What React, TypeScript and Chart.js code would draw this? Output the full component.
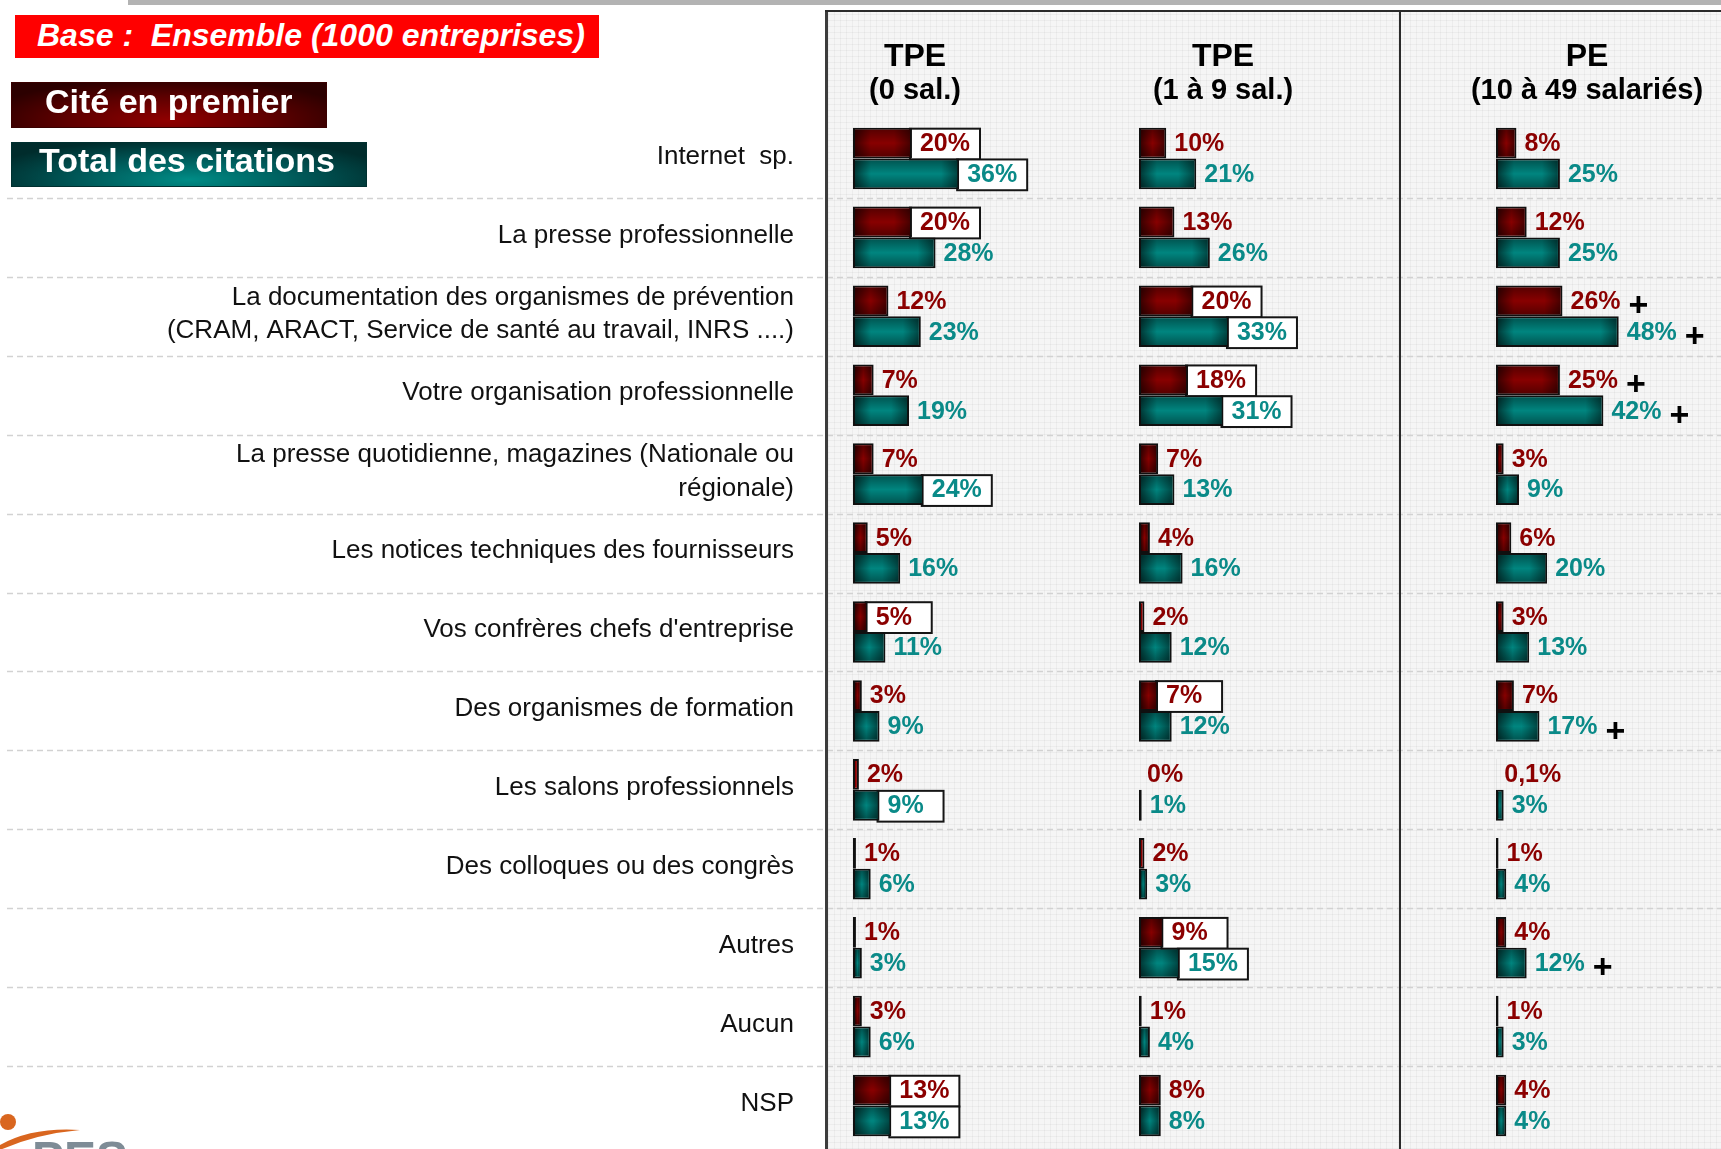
import React, { useEffect, useRef } from 'react';
import { Chart, registerables } from 'chart.js';

Chart.register(...registerables);

// ---------------- DATA ----------------
const ROW_LABELS: (string | string[])[] = [
  'Internet  sp.',
  'La presse professionnelle',
  ['La documentation des organismes de prévention', '(CRAM, ARACT, Service de santé au travail, INRS ....)'],
  'Votre organisation professionnelle',
  ['La presse quotidienne, magazines (Nationale ou', 'régionale)'],
  'Les notices techniques des fournisseurs',
  "Vos confrères chefs d'entreprise",
  'Des organismes de formation',
  'Les salons professionnels',
  'Des colloques ou des congrès',
  'Autres',
  'Aucun',
  'NSP',
];

const PANEL_TITLES: string[][] = [
  ['TPE', '(0 sal.)'],
  ['TPE', '(1 à 9 sal.)'],
  ['PE', '(10 à 49 salariés)'],
];

const SERIES_NAMES = ['Cité en premier', 'Total des citations'];

const TPE0_FIRST = [20, 20, 12, 7, 7, 5, 5, 3, 2, 1, 1, 3, 13];
const TPE0_TOTAL = [36, 28, 23, 19, 24, 16, 11, 9, 9, 6, 3, 6, 13];
const TPE19_FIRST = [10, 13, 20, 18, 7, 4, 2, 7, 0, 2, 9, 1, 8];
const TPE19_TOTAL = [21, 26, 33, 31, 13, 16, 12, 12, 1, 3, 15, 4, 8];
const PE_FIRST = [8, 12, 26, 25, 3, 6, 3, 7, 0.1, 1, 4, 1, 4];
const PE_TOTAL = [25, 25, 48, 42, 9, 20, 13, 17, 3, 4, 12, 3, 4];

// framed labels (significant differences)
const TPE0_FIRST_BOX = [1, 1, 0, 0, 0, 0, 1, 0, 0, 0, 0, 0, 1];
const TPE0_TOTAL_BOX = [1, 0, 0, 0, 1, 0, 0, 0, 1, 0, 0, 0, 1];
const TPE19_FIRST_BOX = [0, 0, 1, 1, 0, 0, 0, 1, 0, 0, 1, 0, 0];
const TPE19_TOTAL_BOX = [0, 0, 1, 1, 0, 0, 0, 0, 0, 0, 1, 0, 0];
const PE_FIRST_BOX = [0, 0, 0, 0, 0, 0, 0, 0, 0, 0, 0, 0, 0];
const PE_TOTAL_BOX = [0, 0, 0, 0, 0, 0, 0, 0, 0, 0, 0, 0, 0];

// "+" markers
const TPE0_FIRST_PLUS = [0, 0, 0, 0, 0, 0, 0, 0, 0, 0, 0, 0, 0];
const TPE0_TOTAL_PLUS = [0, 0, 0, 0, 0, 0, 0, 0, 0, 0, 0, 0, 0];
const TPE19_FIRST_PLUS = [0, 0, 0, 0, 0, 0, 0, 0, 0, 0, 0, 0, 0];
const TPE19_TOTAL_PLUS = [0, 0, 0, 0, 0, 0, 0, 0, 0, 0, 0, 0, 0];
const PE_FIRST_PLUS = [0, 0, 1, 1, 0, 0, 0, 0, 0, 0, 0, 0, 0];
const PE_TOTAL_PLUS = [0, 0, 1, 1, 0, 0, 0, 1, 0, 0, 1, 0, 0];

// ---------------- STYLE / LAYOUT ----------------
const W = 1721;
const H = 1149;
const FONT = '"Liberation Sans", Arial, Helvetica, sans-serif';
const RED_FILL = '#880000';
const TEAL_FILL = '#00857f';
const RED_TEXT = '#8b0000';
const TEAL_TEXT = '#0a8a88';
const PANEL_LEFT = 825;
const PANEL_TOP = 11;
const DIVIDER_X = 1400;
const HEADER_CX = [915, 1223, 1587];

type Series = { data: number[]; box: number[]; plus: number[]; axis: string; kind: 'first' | 'total' };

const SERIES: Series[] = [
  { data: TPE0_FIRST, box: TPE0_FIRST_BOX, plus: TPE0_FIRST_PLUS, axis: 'x1', kind: 'first' },
  { data: TPE0_TOTAL, box: TPE0_TOTAL_BOX, plus: TPE0_TOTAL_PLUS, axis: 'x1', kind: 'total' },
  { data: TPE19_FIRST, box: TPE19_FIRST_BOX, plus: TPE19_FIRST_PLUS, axis: 'x2', kind: 'first' },
  { data: TPE19_TOTAL, box: TPE19_TOTAL_BOX, plus: TPE19_TOTAL_PLUS, axis: 'x2', kind: 'total' },
  { data: PE_FIRST, box: PE_FIRST_BOX, plus: PE_FIRST_PLUS, axis: 'x3', kind: 'first' },
  { data: PE_TOTAL, box: PE_TOTAL_BOX, plus: PE_TOTAL_PLUS, axis: 'x3', kind: 'total' },
];

const fmt = (v: number) => String(v).replace('.', ',') + '%';

function barRect(el: any) {
  const p = el.getProps(['x', 'y', 'base', 'height'], true);
  const left = Math.min(p.x, p.base);
  const right = Math.max(p.x, p.base);
  return { left, right, top: p.y - p.height / 2, bottom: p.y + p.height / 2, end: p.x, cy: p.y, h: p.height };
}

const decorPlugin = {
  id: 'decor',
  beforeDraw(chart: any) {
    const ctx: CanvasRenderingContext2D = chart.ctx;
    ctx.save();
    ctx.fillStyle = '#ffffff';
    ctx.fillRect(0, 0, W, H);
    // panel background with fine grid texture
    ctx.fillStyle = '#f5f5f5';
    ctx.fillRect(PANEL_LEFT, PANEL_TOP, W - PANEL_LEFT, H - PANEL_TOP);
    ctx.strokeStyle = 'rgba(0,0,0,0.035)';
    ctx.lineWidth = 1;
    ctx.beginPath();
    for (let x = PANEL_LEFT + 3; x < W; x += 6) {
      ctx.moveTo(x + 0.5, PANEL_TOP);
      ctx.lineTo(x + 0.5, H);
    }
    for (let y = PANEL_TOP + 3; y < H; y += 6) {
      ctx.moveTo(PANEL_LEFT, y + 0.5);
      ctx.lineTo(W, y + 0.5);
    }
    ctx.stroke();

    // dashed row separators
    const ys = chart.scales.y;
    ctx.strokeStyle = '#d2d2d2';
    ctx.lineWidth = 1.5;
    ctx.setLineDash([6, 4]);
    for (let i = 0; i < ROW_LABELS.length - 1; i++) {
      const yy = Math.round((ys.getPixelForValue(i) + ys.getPixelForValue(i + 1)) / 2) + 0.5;
      ctx.beginPath();
      ctx.moveTo(7, yy);
      ctx.lineTo(W, yy);
      ctx.stroke();
    }
    ctx.setLineDash([]);

    // panel frame
    ctx.strokeStyle = '#3c3c3c';
    ctx.lineWidth = 3;
    ctx.beginPath();
    ctx.moveTo(PANEL_LEFT + 1.5, PANEL_TOP - 1);
    ctx.lineTo(PANEL_LEFT + 1.5, H);
    ctx.stroke();
    ctx.lineWidth = 2;
    ctx.strokeStyle = '#2a2a2a';
    ctx.beginPath();
    ctx.moveTo(PANEL_LEFT, PANEL_TOP);
    ctx.lineTo(W, PANEL_TOP);
    ctx.stroke();
    ctx.beginPath();
    ctx.moveTo(DIVIDER_X, PANEL_TOP);
    ctx.lineTo(DIVIDER_X, H);
    ctx.stroke();

    // panel headers
    ctx.fillStyle = '#000';
    ctx.textAlign = 'center';
    ctx.textBaseline = 'alphabetic';
    PANEL_TITLES.forEach((t, i) => {
      ctx.font = `bold 32px ${FONT}`;
      ctx.fillText(t[0], HEADER_CX[i], 66);
      ctx.font = `bold 29px ${FONT}`;
      ctx.fillText(t[1], HEADER_CX[i], 99);
    });
    ctx.restore();
  },
  beforeDatasetsDraw(chart: any) {
    const ctx: CanvasRenderingContext2D = chart.ctx;
    ctx.save();
    ctx.font = `bold 25px ${FONT}`;
    SERIES.forEach((s, di) => {
      const meta = chart.getDatasetMeta(di);
      meta.data.forEach((el: any, i: number) => {
        if (!s.box[i]) return;
        const r = barRect(el);
        const tw = ctx.measureText(fmt(s.data[i])).width;
        const bw = Math.max(66, tw + 20);
        ctx.fillStyle = '#ffffff';
        ctx.fillRect(r.end - 2, r.top + 1, bw, r.h);
        ctx.strokeStyle = '#151515';
        ctx.lineWidth = 2;
        ctx.strokeRect(r.end - 2, r.top + 1, bw, r.h);
      });
    });
    ctx.restore();
  },
  afterDatasetsDraw(chart: any) {
    const ctx: CanvasRenderingContext2D = chart.ctx;
    ctx.save();
    // pillow shading of the bars
    SERIES.forEach((s, di) => {
      const meta = chart.getDatasetMeta(di);
      meta.data.forEach((el: any) => {
        const r = barRect(el);
        const l = r.left + 2, rr = r.right - 2, t = r.top + 2, b = r.bottom - 2;
        const iw = rr - l, ih = b - t;
        if (iw < 3 || ih < 3) return;
        const e = Math.min(0.5, 16 / iw);
        let g = ctx.createLinearGradient(l, 0, rr, 0);
        g.addColorStop(0, 'rgba(0,0,0,0.55)');
        g.addColorStop(e, 'rgba(0,0,0,0)');
        g.addColorStop(1 - e, 'rgba(0,0,0,0)');
        g.addColorStop(1, 'rgba(0,0,0,0.45)');
        ctx.fillStyle = g;
        ctx.fillRect(l, t, iw, ih);
        g = ctx.createLinearGradient(0, t, 0, b);
        g.addColorStop(0, 'rgba(0,0,0,0.35)');
        g.addColorStop(0.5, 'rgba(0,0,0,0)');
        g.addColorStop(1, 'rgba(0,0,0,0.35)');
        ctx.fillStyle = g;
        ctx.fillRect(l, t, iw, ih);
      });
    });
    // value labels and markers
    ctx.textAlign = 'left';
    ctx.textBaseline = 'middle';
    SERIES.forEach((s, di) => {
      const meta = chart.getDatasetMeta(di);
      meta.data.forEach((el: any, i: number) => {
        const r = barRect(el);
        const txt = fmt(s.data[i]);
        ctx.font = `bold 25px ${FONT}`;
        ctx.fillStyle = s.kind === 'first' ? RED_TEXT : TEAL_TEXT;
        const tx = r.end + 8;
        ctx.fillText(txt, tx, r.cy + 1);
        if (s.plus[i]) {
          const tw = ctx.measureText(txt).width;
          ctx.font = `bold 34px ${FONT}`;
          ctx.fillStyle = '#000';
          ctx.fillText('+', tx + tw + 8, r.cy + 6);
        }
      });
    });
    ctx.restore();
  },
};

export default function App() {
  const ref = useRef<HTMLCanvasElement>(null);

  useEffect(() => {
    if (!ref.current) return;
    Chart.defaults.font.family = FONT;
    const chart = new Chart(ref.current, {
      type: 'bar',
      data: {
        labels: ROW_LABELS as any,
        datasets: SERIES.map((s) => ({
          label: SERIES_NAMES[s.kind === 'first' ? 0 : 1],
          data: s.data,
          xAxisID: s.axis,
          yAxisID: 'y',
          stack: s.kind,
          backgroundColor: s.kind === 'first' ? RED_FILL : TEAL_FILL,
          borderColor: '#101010',
          borderWidth: 2,
          borderSkipped: false,
          categoryPercentage: 0.78,
          barPercentage: 1,
        })),
      },
      options: {
        indexAxis: 'y',
        animation: false,
        responsive: false,
        maintainAspectRatio: false,
        devicePixelRatio: 1,
        layout: { padding: { top: 119, bottom: 4, left: 0, right: 0 } },
        scales: {
          y: {
            type: 'category',
            position: 'left',
            offset: true,
            grid: { display: false, drawTicks: false },
            border: { display: false },
            ticks: {
              autoSkip: false,
              padding: 59,
              labelOffset: -2,
              color: '#111',
              font: { family: FONT, size: 26, lineHeight: 1.3 },
            },
            afterFit: (scale: any) => {
              scale.width = 853;
              scale.paddingTop = 0;
              scale.paddingBottom = 0;
            },
          },
          x1: { type: 'linear', position: 'bottom', stack: 'panels', stackWeight: 286, min: 0, max: 97, display: false },
          x2: { type: 'linear', position: 'bottom', stack: 'panels', stackWeight: 357, min: 0, max: 131, display: false },
          x3: { type: 'linear', position: 'bottom', stack: 'panels', stackWeight: 225, min: 0, max: 88, display: false },
        },
        plugins: {
          legend: { display: false },
          tooltip: { enabled: false },
        },
      } as any,
      plugins: [decorPlugin],
    });
    return () => chart.destroy();
  }, []);

  const legendText: React.CSSProperties = {
    color: '#fff',
    fontFamily: FONT,
    fontWeight: 'bold',
    fontSize: 34,
    whiteSpace: 'nowrap',
    display: 'flex',
    alignItems: 'center',
    boxSizing: 'border-box',
    position: 'absolute',
  };

  return (
    <div style={{ position: 'absolute', left: 0, top: 0, width: W, height: H, overflow: 'hidden', background: '#fff' }}>
      <canvas ref={ref} width={W} height={H} style={{ position: 'absolute', left: 0, top: 0, width: W, height: H, display: 'block' }} />
      <div style={{ position: 'absolute', left: 128, top: 0, width: W - 128, height: 5, background: '#b3b3b3' }} />
      <div
        style={{
          ...legendText,
          left: 15,
          top: 15,
          width: 584,
          height: 43,
          background: '#ff0000',
          fontSize: 32,
          fontStyle: 'italic',
          paddingLeft: 22,
          paddingBottom: 2,
        }}
      >
        Base :&nbsp; Ensemble (1000 entreprises)
      </div>
      <div
        style={{
          ...legendText,
          left: 11,
          top: 82,
          width: 316,
          height: 46,
          paddingLeft: 33,
          paddingBottom: 8,
          border: '1px solid #3a0000',
          background: 'radial-gradient(ellipse 60% 95% at 50% 85%, #900000 0%, #5e0000 55%, #2c0000 100%)',
        }}
      >
        {SERIES_NAMES[0]}
      </div>
      <div
        style={{
          ...legendText,
          left: 11,
          top: 142,
          width: 356,
          height: 45,
          paddingLeft: 27,
          paddingBottom: 8,
          border: '1px solid #003030',
          background: 'radial-gradient(ellipse 60% 95% at 50% 85%, #008c86 0%, #005656 55%, #002c2c 100%)',
        }}
      >
        {SERIES_NAMES[1]}
      </div>
      <svg style={{ position: 'absolute', left: 0, top: 1105 }} width={180} height={44}>
        <circle cx={8} cy={17} r={8} fill="#d9661f" />
        <path d="M0,40 Q32,22 80,25 Q36,29 0,45 Z" fill="#d9661f" />
        <text x={32} y={70} fontFamily={FONT} fontWeight="bold" fontSize={48} fill="#7e8c96">
          PES
        </text>
      </svg>
    </div>
  );
}
